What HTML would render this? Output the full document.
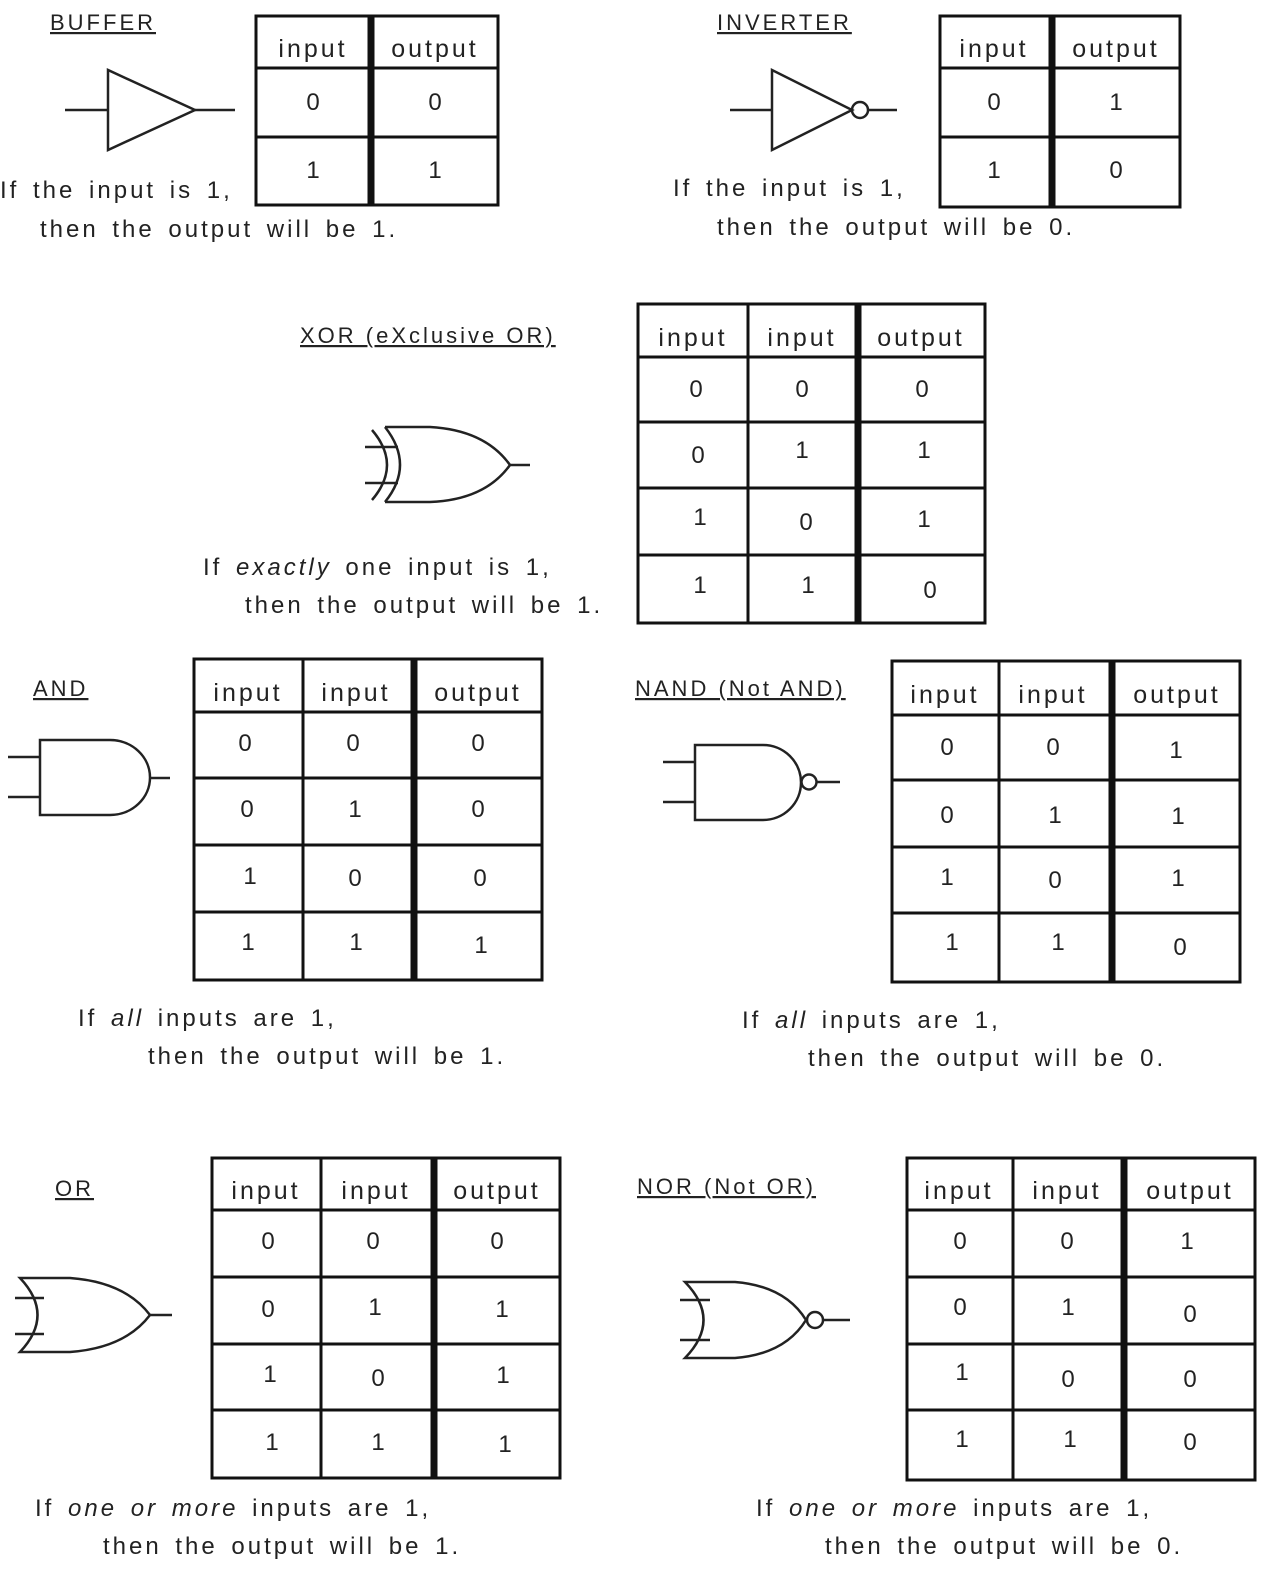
<!DOCTYPE html>
<html><head><meta charset="utf-8"><style>
html,body{margin:0;padding:0;background:#fff;}
svg{display:block;}
text{font-family:"Liberation Sans",sans-serif;fill:#222;}
.t{font-size:24px;letter-spacing:3px;word-spacing:4px;}
.c{font-size:24px;text-anchor:middle;}
.h{font-size:25px;text-anchor:middle;letter-spacing:3px;}
.l{font-size:22px;letter-spacing:3px;text-decoration:underline;}
.g{fill:none;stroke:#222;stroke-width:2.5;}
.b{fill:none;stroke:#111;stroke-width:3;}
.k{stroke:#111;stroke-width:7;}
</style></head><body>
<svg width="1280" height="1588" viewBox="0 0 1280 1588" xmlns="http://www.w3.org/2000/svg">

<!-- BUFFER -->
<text class="l" x="50" y="30">BUFFER</text>
<line class="g" x1="65" y1="110" x2="108" y2="110"/>
<polygon class="g" points="108,70 108,150 195,110"/>
<line class="g" x1="195" y1="110" x2="235" y2="110"/>
<rect class="b" x="256" y="16" width="242" height="189"/>
<line class="b" x1="256" y1="68" x2="498" y2="68"/>
<line class="b" x1="256" y1="137" x2="498" y2="137"/>
<line class="k" x1="371" y1="16" x2="371" y2="205"/>
<text class="h" x="313" y="57">input</text><text class="h" x="435" y="57">output</text>
<text class="c" x="313" y="110">0</text><text class="c" x="435" y="110">0</text>
<text class="c" x="313" y="178">1</text><text class="c" x="435" y="178">1</text>
<text class="t" x="0" y="198">If the input is 1,</text>
<text class="t" x="40" y="237">then the output will be 1.</text>

<!-- INVERTER -->
<text class="l" x="717" y="30">INVERTER</text>
<line class="g" x1="730" y1="110" x2="772" y2="110"/>
<polygon class="g" points="772,70 772,150 852,110"/>
<circle class="g" cx="860" cy="110" r="8"/>
<line class="g" x1="868" y1="110" x2="897" y2="110"/>
<rect class="b" x="940" y="16" width="240" height="191"/>
<line class="b" x1="940" y1="68" x2="1180" y2="68"/>
<line class="b" x1="940" y1="137" x2="1180" y2="137"/>
<line class="k" x1="1052" y1="16" x2="1052" y2="207"/>
<text class="h" x="994" y="57">input</text><text class="h" x="1116" y="57">output</text>
<text class="c" x="994" y="110">0</text><text class="c" x="1116" y="110">1</text>
<text class="c" x="994" y="178">1</text><text class="c" x="1116" y="178">0</text>
<text class="t" x="673" y="196">If the input is 1,</text>
<text class="t" x="717" y="235">then the output will be 0.</text>

<!-- XOR -->
<text class="l" x="300" y="343">XOR (eXclusive OR)</text>
<line class="g" x1="365" y1="447" x2="398" y2="447"/>
<line class="g" x1="365" y1="483" x2="398" y2="483"/>
<path class="g" d="M372,430 Q402,465 372,500"/>
<path class="g" d="M385,427 Q415,465 385,502"/>
<path class="g" d="M385,427 L430,427 Q485,430 510,465 Q485,500 430,502 L385,502"/>
<line class="g" x1="510" y1="465" x2="530" y2="465"/>
<rect class="b" x="638" y="304" width="347" height="319"/>
<line class="b" x1="638" y1="357" x2="985" y2="357"/>
<line class="b" x1="638" y1="422" x2="985" y2="422"/>
<line class="b" x1="638" y1="488" x2="985" y2="488"/>
<line class="b" x1="638" y1="555" x2="985" y2="555"/>
<line class="b" x1="748" y1="304" x2="748" y2="623"/>
<line class="k" x1="858" y1="304" x2="858" y2="623"/>
<text class="h" x="693" y="346">input</text><text class="h" x="802" y="346">input</text><text class="h" x="921" y="346">output</text>
<text class="c" x="696" y="397">0</text><text class="c" x="802" y="397">0</text><text class="c" x="922" y="397">0</text>
<text class="c" x="698" y="463">0</text><text class="c" x="802" y="458">1</text><text class="c" x="924" y="458">1</text>
<text class="c" x="700" y="525">1</text><text class="c" x="806" y="530">0</text><text class="c" x="924" y="527">1</text>
<text class="c" x="700" y="593">1</text><text class="c" x="808" y="593">1</text><text class="c" x="930" y="598">0</text>
<text class="t" x="203" y="575">If <tspan font-style="italic">exactly</tspan>  one input is 1,</text>
<text class="t" x="245" y="613">then the output will be 1.</text>

<!-- AND -->
<text class="l" x="33" y="696">AND</text>
<line class="g" x1="8" y1="757" x2="40" y2="757"/>
<line class="g" x1="8" y1="797" x2="40" y2="797"/>
<path class="g" d="M40,740 L110,740 A40,37.5 0 0 1 110,815 L40,815 Z"/>
<line class="g" x1="150" y1="778" x2="170" y2="778"/>
<rect class="b" x="194" y="659" width="348" height="321"/>
<line class="b" x1="194" y1="712" x2="542" y2="712"/>
<line class="b" x1="194" y1="778" x2="542" y2="778"/>
<line class="b" x1="194" y1="845" x2="542" y2="845"/>
<line class="b" x1="194" y1="912" x2="542" y2="912"/>
<line class="b" x1="303" y1="659" x2="303" y2="980"/>
<line class="k" x1="414" y1="659" x2="414" y2="980"/>
<text class="h" x="248" y="701">input</text><text class="h" x="356" y="701">input</text><text class="h" x="478" y="701">output</text>
<text class="c" x="245" y="751">0</text><text class="c" x="353" y="751">0</text><text class="c" x="478" y="751">0</text>
<text class="c" x="247" y="817">0</text><text class="c" x="355" y="817">1</text><text class="c" x="478" y="817">0</text>
<text class="c" x="250" y="884">1</text><text class="c" x="355" y="886">0</text><text class="c" x="480" y="886">0</text>
<text class="c" x="248" y="950">1</text><text class="c" x="356" y="950">1</text><text class="c" x="481" y="953">1</text>
<text class="t" x="78" y="1026">If <tspan font-style="italic">all</tspan>  inputs are 1,</text>
<text class="t" x="148" y="1064">then the output will be 1.</text>

<!-- NAND -->
<text class="l" x="635" y="696">NAND (Not AND)</text>
<line class="g" x1="663" y1="762" x2="695" y2="762"/>
<line class="g" x1="663" y1="802" x2="695" y2="802"/>
<path class="g" d="M695,745 L763,745 A38,37.5 0 0 1 763,820 L695,820 Z"/>
<circle class="g" cx="809" cy="782" r="7.5"/>
<line class="g" x1="817" y1="782" x2="840" y2="782"/>
<rect class="b" x="892" y="661" width="348" height="321"/>
<line class="b" x1="892" y1="715" x2="1240" y2="715"/>
<line class="b" x1="892" y1="780" x2="1240" y2="780"/>
<line class="b" x1="892" y1="847" x2="1240" y2="847"/>
<line class="b" x1="892" y1="913" x2="1240" y2="913"/>
<line class="b" x1="999" y1="661" x2="999" y2="982"/>
<line class="k" x1="1112" y1="661" x2="1112" y2="982"/>
<text class="h" x="945" y="703">input</text><text class="h" x="1053" y="703">input</text><text class="h" x="1177" y="703">output</text>
<text class="c" x="947" y="755">0</text><text class="c" x="1053" y="755">0</text><text class="c" x="1176" y="758">1</text>
<text class="c" x="947" y="823">0</text><text class="c" x="1055" y="823">1</text><text class="c" x="1178" y="824">1</text>
<text class="c" x="947" y="885">1</text><text class="c" x="1055" y="888">0</text><text class="c" x="1178" y="886">1</text>
<text class="c" x="952" y="950">1</text><text class="c" x="1058" y="950">1</text><text class="c" x="1180" y="955">0</text>
<text class="t" x="742" y="1028">If <tspan font-style="italic">all</tspan>  inputs are 1,</text>
<text class="t" x="808" y="1066">then the output will be 0.</text>

<!-- OR -->
<text class="l" x="55" y="1196">OR</text>
<line class="g" x1="15" y1="1298" x2="44" y2="1298"/>
<line class="g" x1="15" y1="1334" x2="44" y2="1334"/>
<path class="g" d="M20,1278 L70,1278 Q125,1282 150,1315 Q125,1348 70,1352 L20,1352 Q55,1315 20,1278 Z"/>
<line class="g" x1="150" y1="1315" x2="172" y2="1315"/>
<rect class="b" x="212" y="1158" width="348" height="320"/>
<line class="b" x1="212" y1="1210" x2="560" y2="1210"/>
<line class="b" x1="212" y1="1277" x2="560" y2="1277"/>
<line class="b" x1="212" y1="1344" x2="560" y2="1344"/>
<line class="b" x1="212" y1="1410" x2="560" y2="1410"/>
<line class="b" x1="321" y1="1158" x2="321" y2="1478"/>
<line class="k" x1="434" y1="1158" x2="434" y2="1478"/>
<text class="h" x="266" y="1199">input</text><text class="h" x="376" y="1199">input</text><text class="h" x="497" y="1199">output</text>
<text class="c" x="268" y="1249">0</text><text class="c" x="373" y="1249">0</text><text class="c" x="497" y="1249">0</text>
<text class="c" x="268" y="1317">0</text><text class="c" x="375" y="1315">1</text><text class="c" x="502" y="1317">1</text>
<text class="c" x="270" y="1382">1</text><text class="c" x="378" y="1386">0</text><text class="c" x="503" y="1383">1</text>
<text class="c" x="272" y="1450">1</text><text class="c" x="378" y="1450">1</text><text class="c" x="505" y="1452">1</text>
<text class="t" x="35" y="1516">If <tspan font-style="italic">one or more</tspan>  inputs are 1,</text>
<text class="t" x="103" y="1554">then the output will be 1.</text>

<!-- NOR -->
<text class="l" x="637" y="1194">NOR (Not OR)</text>
<line class="g" x1="680" y1="1300" x2="710" y2="1300"/>
<line class="g" x1="680" y1="1340" x2="710" y2="1340"/>
<path class="g" d="M685,1282 L735,1282 Q785,1286 806,1320 Q785,1354 735,1358 L685,1358 Q722,1320 685,1282 Z"/>
<circle class="g" cx="815" cy="1320" r="8"/>
<line class="g" x1="823" y1="1320" x2="850" y2="1320"/>
<rect class="b" x="907" y="1158" width="348" height="322"/>
<line class="b" x1="907" y1="1210" x2="1255" y2="1210"/>
<line class="b" x1="907" y1="1277" x2="1255" y2="1277"/>
<line class="b" x1="907" y1="1344" x2="1255" y2="1344"/>
<line class="b" x1="907" y1="1410" x2="1255" y2="1410"/>
<line class="b" x1="1013" y1="1158" x2="1013" y2="1480"/>
<line class="k" x1="1124" y1="1158" x2="1124" y2="1480"/>
<text class="h" x="959" y="1199">input</text><text class="h" x="1067" y="1199">input</text><text class="h" x="1190" y="1199">output</text>
<text class="c" x="960" y="1249">0</text><text class="c" x="1067" y="1249">0</text><text class="c" x="1187" y="1249">1</text>
<text class="c" x="960" y="1315">0</text><text class="c" x="1068" y="1315">1</text><text class="c" x="1190" y="1322">0</text>
<text class="c" x="962" y="1380">1</text><text class="c" x="1068" y="1387">0</text><text class="c" x="1190" y="1387">0</text>
<text class="c" x="962" y="1447">1</text><text class="c" x="1070" y="1447">1</text><text class="c" x="1190" y="1450">0</text>
<text class="t" x="756" y="1516">If <tspan font-style="italic">one or more</tspan>  inputs are 1,</text>
<text class="t" x="825" y="1554">then the output will be 0.</text>

</svg>
</body></html>
